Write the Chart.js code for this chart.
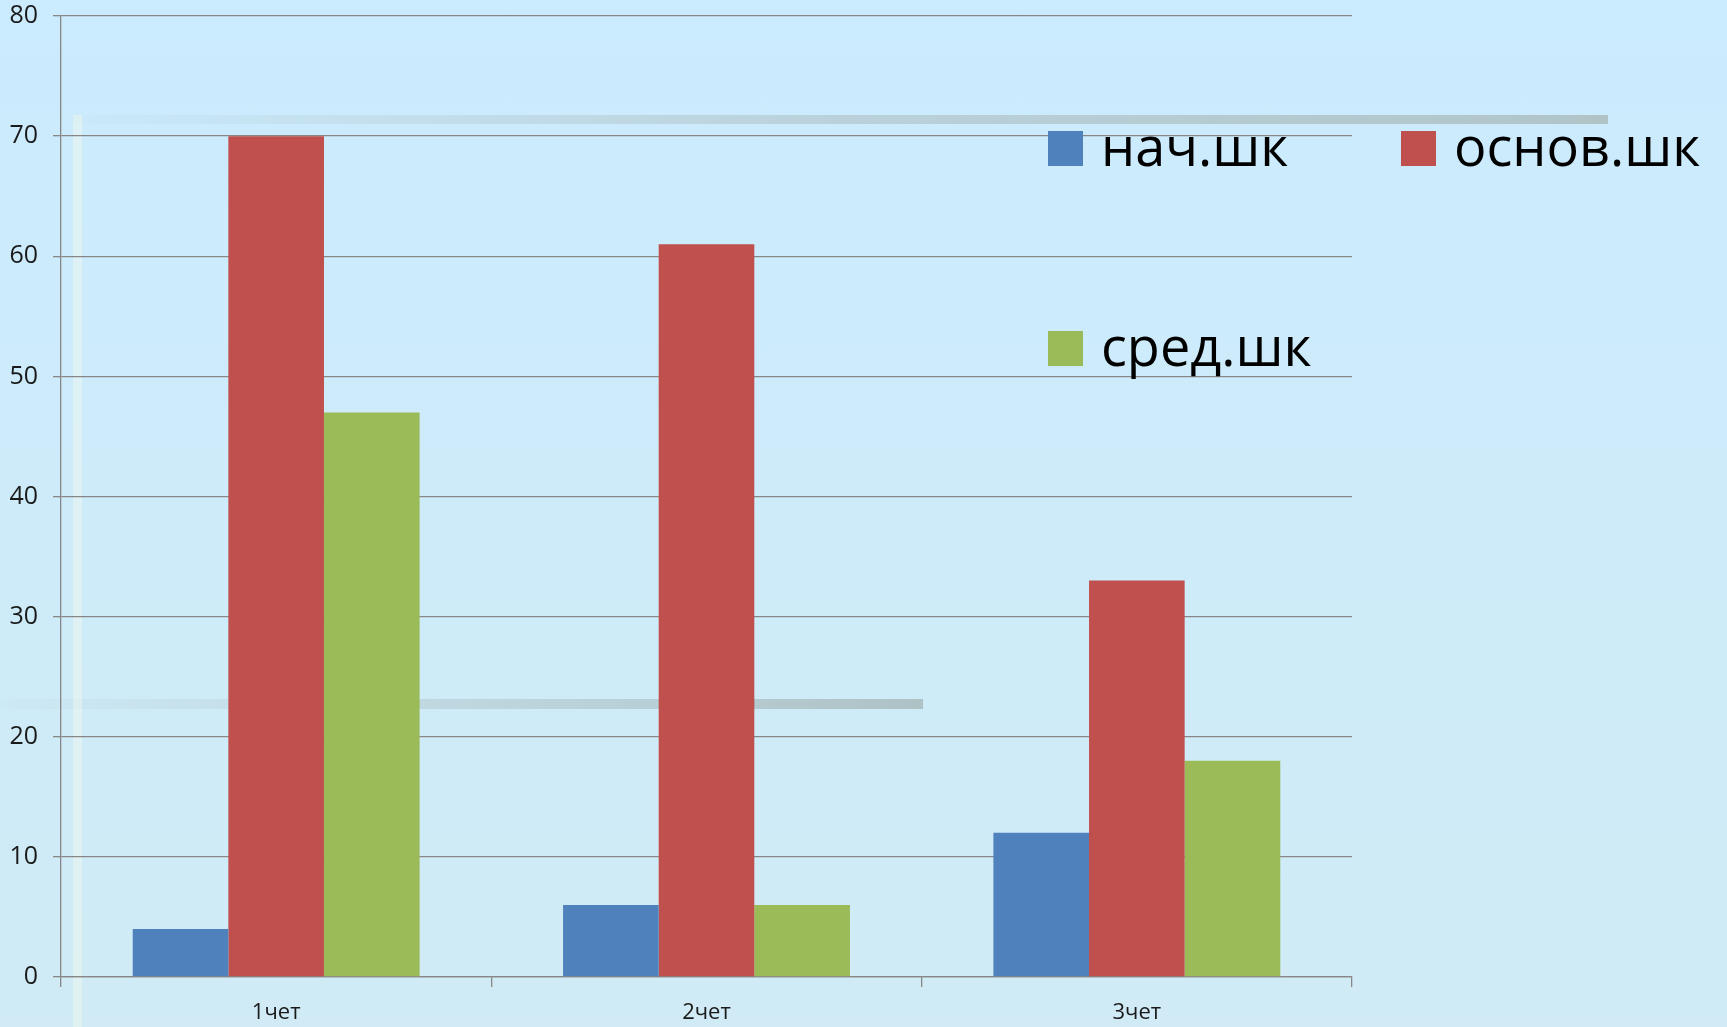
<!DOCTYPE html>
<html>
<head>
<meta http-equiv="Content-Type" content="text/html; charset=UTF-8" />
<title>нач / основ / сред</title>
<style>
html, body { margin: 0; padding: 0; }
body { width: 1727px; height: 1027px; overflow: hidden; background: linear-gradient(#cbebfe, #d0ebf5); }
#wrap { position: relative; width: 1727px; height: 1027px; }
</style>
</head>
<body>
<div id="wrap"><canvas id="chart"></canvas></div>
<script src="https://cdn.jsdelivr.net/npm/chart.js"></script>
<script>
var quarters = ["1чет", "2чет", "3чет"];
var seriesNames = ["нач.шк", "основ.шк", "сред.шк"];
var nach = [4, 6, 12];
var osnov = [70, 61, 33];
var sred = [47, 6, 18];
var yMin = 0, yMax = 80, yStep = 10;

var colors = ["#4f81bd", "#c0504d", "#9bbb59"];
var axisGray = "#878787";
var fontFamily = "'Open Sans', 'Noto Sans', sans-serif";

// slide decorations behind the chart (grey shadow strips)
var decor = {
	id: "decor",
	beforeDraw: function(chart) {
		var ctx = chart.ctx;
		ctx.save();
		var g = ctx.createLinearGradient(73, 0, 1608, 0);
		g.addColorStop(0, "rgba(178,198,203,0.05)");
		g.addColorStop(0.5, "rgba(178,198,203,0.7)");
		g.addColorStop(1, "rgba(176,196,200,1)");
		ctx.fillStyle = g;
		ctx.fillRect(73, 115, 1535, 9);

		var g2 = ctx.createLinearGradient(0, 0, 923, 0);
		g2.addColorStop(0, "rgba(178,198,203,0.05)");
		g2.addColorStop(1, "rgba(174,194,198,1)");
		ctx.fillStyle = g2;
		ctx.fillRect(0, 699, 923, 10);

		ctx.fillStyle = "rgba(240,248,238,0.5)";
		ctx.fillRect(73, 115, 9, 912);
		ctx.restore();
	}
};

// legend laid out like the original slide: two items on the first row, one below
var slideLegend = {
	id: "slideLegend",
	afterDraw: function(chart) {
		var ctx = chart.ctx;
		var spots = [[1048, 131], [1401, 131], [1048, 331]];
		ctx.save();
		ctx.font = "54px " + fontFamily;
		ctx.textBaseline = "alphabetic";
		chart.data.datasets.forEach(function(ds, i) {
			var p = spots[i];
			ctx.fillStyle = ds.backgroundColor;
			ctx.fillRect(p[0], p[1], 35, 35);
			ctx.fillStyle = "#000";
			ctx.fillText(ds.label, p[0] + 53, p[1] + 35);
		});
		ctx.restore();
	}
};

new Chart(document.getElementById("chart"), {
	type: "bar",
	data: {
		labels: quarters,
		datasets: [
			{ label: seriesNames[0], data: nach, backgroundColor: colors[0] },
			{ label: seriesNames[1], data: osnov, backgroundColor: colors[1] },
			{ label: seriesNames[2], data: sred, backgroundColor: colors[2] }
		]
	},
	options: {
		responsive: true,
		maintainAspectRatio: false,
		animation: false,
		categoryPercentage: 2 / 3,
		barPercentage: 1,
		layout: { padding: { left: 0, right: 375, top: 16, bottom: 0 } },
		plugins: {
			legend: { display: false },
			tooltip: { enabled: false }
		},
		scales: {
			x: {
				afterFit: function(scale) { scale.height = 50; },
				grid: { offset: true, drawOnChartArea: false, drawTicks: true, tickLength: 10, color: axisGray, lineWidth: 1.3 },
				border: { color: axisGray, width: 1.3 },
				ticks: { color: "#1a1a1a", font: { family: fontFamily, size: 22 }, padding: 13 }
			},
			y: {
				min: yMin,
				max: yMax,
				afterFit: function(scale) {
					scale.width = 61;
					scale.paddingTop = 0;
					scale.paddingBottom = 0;
				},
				grid: { color: axisGray, lineWidth: 1.3, tickLength: 8 },
				border: { color: axisGray, width: 1.3 },
				ticks: { stepSize: yStep, color: "#1a1a1a", font: { family: fontFamily, size: 25 }, padding: 15 }
			}
		}
	},
	plugins: [decor, slideLegend]
});
</script>
</body>
</html>
